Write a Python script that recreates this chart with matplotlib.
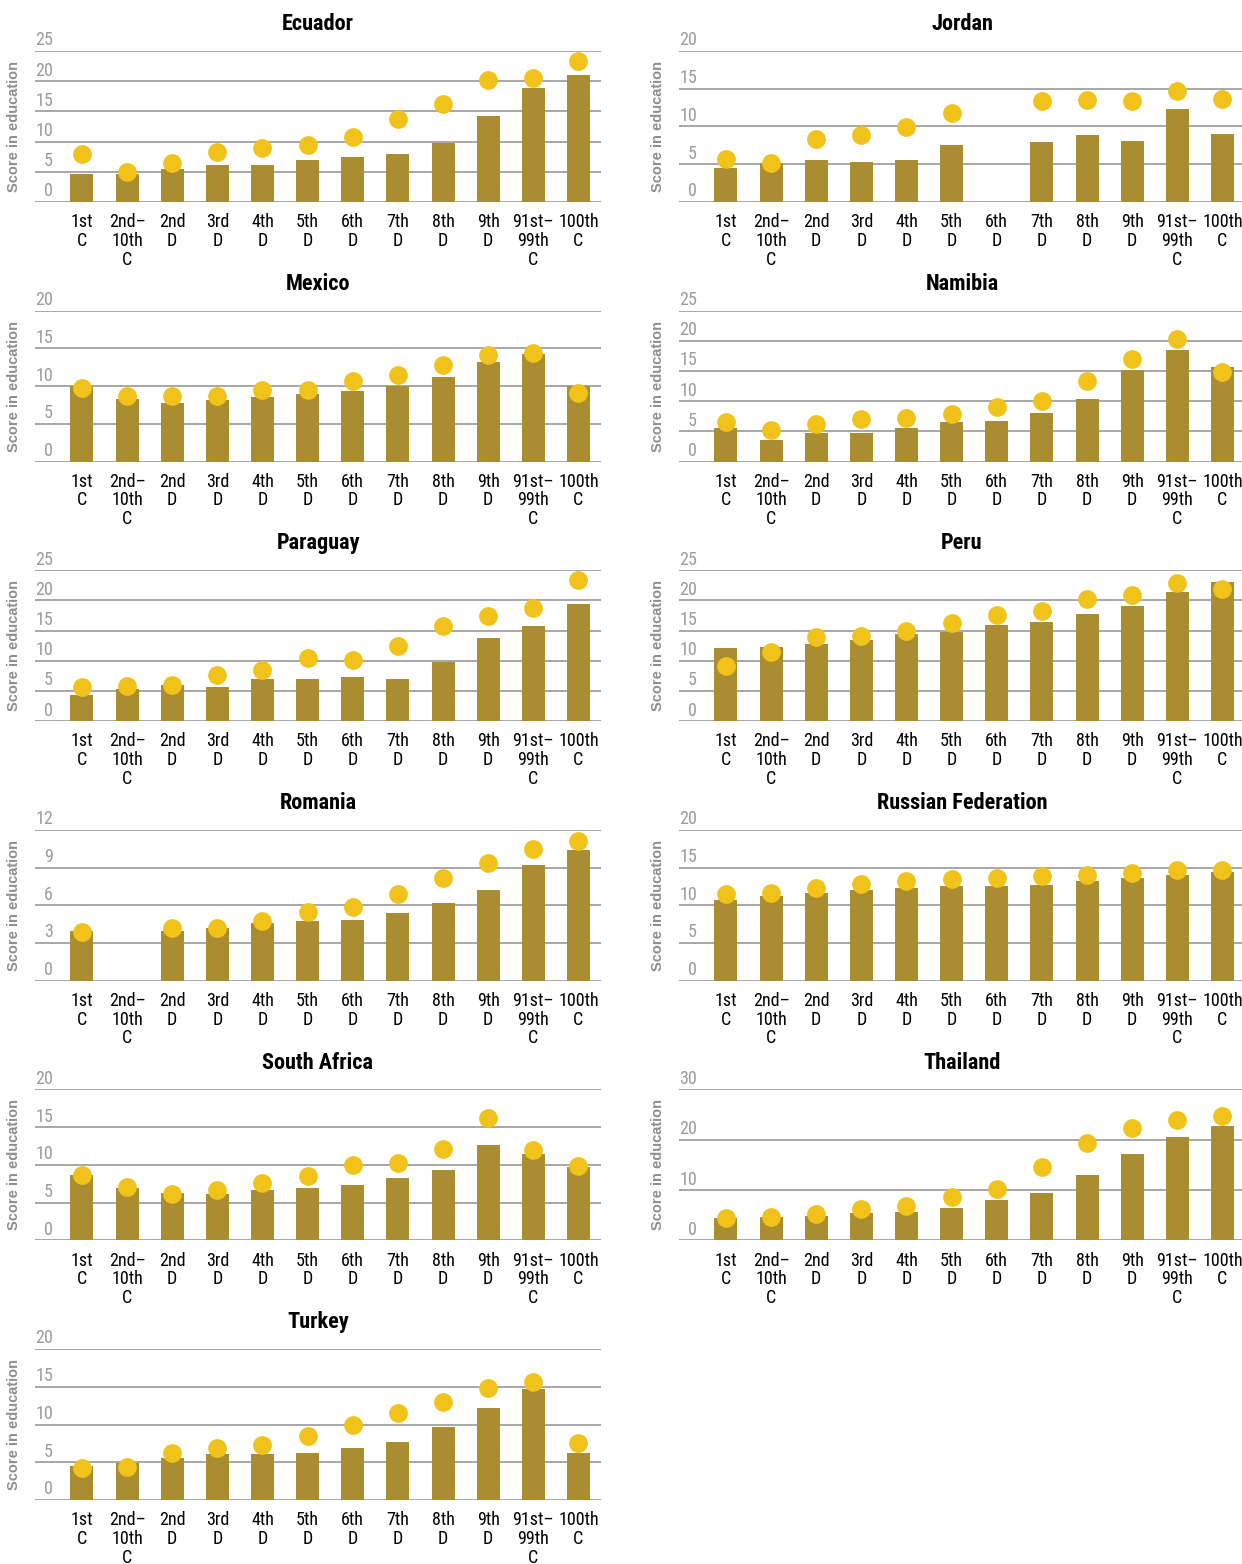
import os
import numpy as np
import matplotlib
matplotlib.use('Agg')
import matplotlib.pyplot as plt
from matplotlib import font_manager as fm

nan = np.nan

# Categories (percentiles / C = centile, D = decile)
categories = ['1st\nC', '2nd–\n10th\nC', '2nd\nD', '3rd\nD', '4th\nD', '5th\nD',
              '6th\nD', '7th\nD', '8th\nD', '9th\nD', '91st–\n99th\nC', '100th\nC']

countries = ['Ecuador', 'Jordan', 'Mexico', 'Namibia', 'Paraguay', 'Peru',
             'Romania', 'Russian Federation', 'South Africa', 'Thailand', 'Turkey']

# bar values (olive bars)
ecuador_bar = [4.7, 4.7, 5.5, 6.2, 6.2, 6.9, 7.4, 7.9, 9.7, 14.2, 18.8, 21.0]
jordan_bar = [4.5, 5.1, 5.6, 5.3, 5.6, 7.6, nan, 8.0, 8.9, 8.1, 12.3, 9.0]
mexico_bar = [10.0, 8.3, 7.8, 8.1, 8.6, 9.0, 9.3, 10.0, 11.2, 13.2, 14.3, 10.0]
namibia_bar = [5.5, 3.5, 4.7, 4.8, 5.5, 6.5, 6.8, 8.1, 10.4, 15.1, 18.4, 15.7]
paraguay_bar = [4.4, 5.3, 6.0, 5.7, 7.0, 7.0, 7.3, 7.0, 9.8, 13.8, 15.7, 19.4]
peru_bar = [12.1, 12.3, 12.8, 13.4, 14.4, 14.8, 15.9, 16.4, 17.7, 19.1, 21.4, 23.0]
romania_bar = [3.95, nan, 3.95, 4.2, 4.6, 4.75, 4.8, 5.4, 6.2, 7.2, 9.2, 10.4]
russia_bar = [10.7, 11.2, 11.6, 12.0, 12.3, 12.5, 12.5, 12.7, 13.2, 13.6, 14.0, 14.4]
safrica_bar = [8.65, 6.9, 6.3, 6.1, 6.7, 6.9, 7.3, 8.3, 9.3, 12.6, 11.4, 9.7]
thailand_bar = [4.4, 4.6, 4.8, 5.4, 5.6, 6.4, 8.0, 9.4, 13.0, 17.2, 20.5, 22.7]
turkey_bar = [4.5, 4.9, 5.6, 6.1, 6.1, 6.2, 6.9, 7.7, 9.7, 12.2, 14.7, 6.2]

# dot values (yellow circles)
ecuador_dot = [8.0, 5.0, 6.4, 8.2, 8.9, 9.5, 10.7, 13.7, 16.3, 20.2, 20.6, 23.3]
jordan_dot = [5.7, 5.2, 8.3, 8.9, 9.9, 11.8, nan, 13.4, 13.5, 13.4, 14.7, 13.6]
mexico_dot = [9.8, 8.7, 8.7, 8.7, 9.5, 9.5, 10.7, 11.5, 12.8, 14.1, 14.4, 9.1]
namibia_dot = [6.5, 5.3, 6.3, 7.0, 7.3, 7.8, 9.0, 10.1, 13.4, 17.0, 20.3, 14.9]
paraguay_dot = [5.7, 5.8, 6.0, 7.7, 8.5, 10.5, 10.1, 12.4, 15.7, 17.4, 18.7, 23.3]
peru_dot = [9.1, 11.5, 13.9, 14.1, 14.9, 16.2, 17.6, 18.2, 20.2, 20.9, 22.9, 21.9]
romania_dot = [3.9, nan, 4.2, 4.2, 4.75, 5.5, 5.9, 6.9, 8.2, 9.4, 10.5, 11.1]
russia_dot = [11.5, 11.6, 12.3, 12.8, 13.2, 13.5, 13.6, 13.9, 14.0, 14.3, 14.7, 14.7]
safrica_dot = [8.65, 7.1, 6.1, 6.7, 7.6, 8.5, 10.0, 10.2, 12.1, 16.2, 12.0, 9.8]
thailand_dot = [4.4, 4.6, 5.2, 6.2, 6.8, 8.6, 10.2, 14.6, 19.3, 22.3, 23.9, 24.7]
turkey_dot = [4.2, 4.4, 6.2, 6.9, 7.3, 8.5, 9.9, 11.5, 13.0, 14.8, 15.6, 7.5]

# y axis max and step per country
y_max = [25, 20, 20, 25, 25, 25, 12, 20, 20, 30, 20]
y_step = [5, 5, 5, 5, 5, 5, 3, 5, 5, 10, 5]

bars = [ecuador_bar, jordan_bar, mexico_bar, namibia_bar, paraguay_bar, peru_bar,
        romania_bar, russia_bar, safrica_bar, thailand_bar, turkey_bar]
dots = [ecuador_dot, jordan_dot, mexico_dot, namibia_dot, paraguay_dot, peru_dot,
        romania_dot, russia_dot, safrica_dot, thailand_dot, turkey_dot]

BAR_COL = '#AA8C31'
DOT_COL = '#F0C21A'
GRID_COL = '#A0A0A0'
TICK_COL = '#9B9B9B'


# look for a narrow / condensed face, the original uses a condensed grotesque
def find_files():
    files = {os.path.basename(f.fname).lower(): f.fname for f in fm.fontManager.ttflist}
    for p in fm.findSystemFonts():
        files.setdefault(os.path.basename(p).lower(), p)
    pairs = [('robotocondensed-regular.ttf', 'robotocondensed-bold.ttf'),
             ('liberationsansnarrow-regular.ttf', 'liberationsansnarrow-bold.ttf'),
             ('notosans-condensed.ttf', 'notosans-condensedbold.ttf'),
             ('opensans-condensed-regular.ttf', 'opensans-condensed-bold.ttf'),
             ('dejavusanscondensed.ttf', 'dejavusanscondensed-bold.ttf')]
    for reg, bold in pairs:
        if reg in files and bold in files:
            return files[reg], files[bold]
    return None, None


reg_file, bold_file = find_files()


def fp(size, bold=False):
    if reg_file:
        return fm.FontProperties(fname=bold_file if bold else reg_file, size=size)
    return fm.FontProperties(family='Roboto', size=size * 0.82,
                             weight='bold' if bold else 'normal')


W, H = 1242, 1564
fig = plt.figure(figsize=(W / 100, H / 100), dpi=100)

col_x = [35, 679]
ax_w = 566
ax_h = 151
x = np.arange(len(categories))

for i, name in enumerate(countries):
    row, col = divmod(i, 2)
    base = 202 + 259.6 * row
    ax = fig.add_axes([col_x[col] / W, 1 - base / H, ax_w / W, ax_h / H])

    ax.bar(x, bars[i], width=0.51, color=BAR_COL, zorder=2)
    ax.plot(x, dots[i], 'o', color=DOT_COL, markersize=13.5, markeredgewidth=0,
            zorder=3, clip_on=False)

    ticks = np.arange(0, y_max[i] + 0.1, y_step[i])
    ax.set_ylim(0, y_max[i])
    ax.set_xlim(-1.04, 11.5)
    ax.set_yticks(ticks)
    ax.set_yticklabels([])
    for t in ticks:
        ax.axhline(t, color=GRID_COL, lw=1.3, zorder=1)
        ax.annotate(f'{t:g}', xy=(0, t), xycoords=('axes fraction', 'data'),
                    xytext=(13, 4), textcoords='offset points',
                    ha='right', va='baseline', color=TICK_COL,
                    fontproperties=fp(13))

    ax.set_xticks(x)
    ax.set_xticklabels(categories, fontproperties=fp(13), linespacing=1.05)
    ax.tick_params(axis='both', length=0)
    ax.tick_params(axis='x', pad=8)
    for s in ax.spines.values():
        s.set_visible(False)

    ax.set_title(name, fontproperties=fp(16, bold=True), pad=15)
    ax.set_ylabel('Score in education', fontsize=10.5, fontweight='bold',
                  color='#8E8E8E', family=['Liberation Sans', 'DejaVu Sans'])
    ax.yaxis.set_label_coords(-14 / ax_w, 0.5)

fig.savefig('out.png', dpi=100)
